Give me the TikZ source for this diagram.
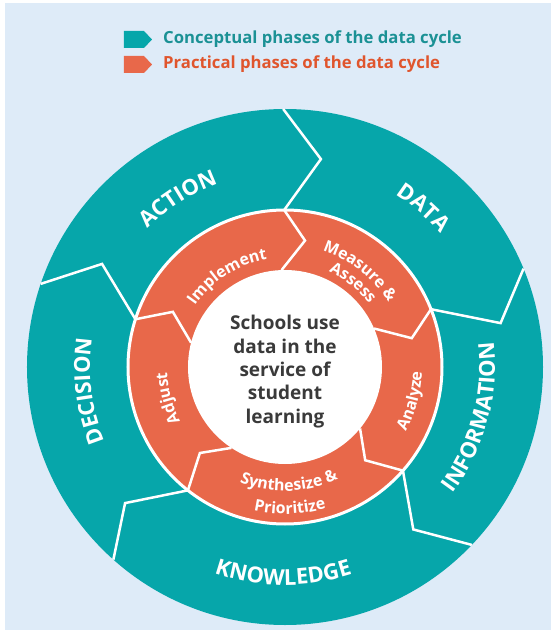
\documentclass[tikz,border=0pt]{standalone}
\usepackage{fontspec}
\setmainfont{Open Sans}
\usepackage{tikz}
\usetikzlibrary{decorations.text}
\definecolor{bgblue}{HTML}{DEEBF8}
\definecolor{tealC}{HTML}{06A6AA}
\definecolor{orangeC}{HTML}{E8684A}
\definecolor{tealtext}{HTML}{1B9195}
\definecolor{orangetext}{HTML}{E0552D}
\definecolor{mottogray}{HTML}{3A3A3A}
\newcommand{\outerfont}{\fontsize{22}{22}\selectfont\bfseries}
\newcommand{\innerfont}{\fontsize{16}{16}\selectfont\bfseries}
\newcommand{\legfont}{\fontsize{16.7}{16.7}\selectfont\bfseries}
\newcommand{\mottofont}{\fontsize{19}{23.3}\selectfont\bfseries}
\tikzset{sep/.style={white,line width=2.5pt,line join=miter},
  lbl/.style={decorate,decoration={text along path,text align=center,text color=white}}}
\begin{document}
\begin{tikzpicture}[x=1pt,y=1pt]
%Фон
\useasboundingbox (-285,-267) rectangle (266,367);
\fill[white] (-285,-267) rectangle (266,367);
\fill[bgblue] (-280,-263) rectangle (266,364);
%Легенда
\fill[tealC] (-161,336) -- (-141,336) -- (-133,327.5) -- (-141,319) -- (-161,319) -- cycle;
\fill[orangeC] (-161,311) -- (-141,311) -- (-133,302.5) -- (-141,294) -- (-161,294) -- cycle;
\node[anchor=west,inner sep=0,text=tealtext,font=\legfont] (concept) at (-122,327.5) {Conceptual phases of the data cycle};
\node[anchor=west,inner sep=0,text=orangetext,font=\legfont] (practical) at (-122,302.5) {Practical phases of the data cycle};
%Кольца
\fill[tealC] (0,0) circle (258);
\draw[white,line width=3pt,fill=orangeC] (0,0) circle (157);
\fill[white] (0,0) circle (97);
%Границы фаз
\draw[sep] (90.4:258) -- (80.2:211) -- (90.3:157) -- (81:128) -- (92:97);
\draw[sep] (22.4:258) -- (11.5:220) -- (21.6:157) -- (12.8:130) -- (23.4:97);
\draw[sep] (-43.6:258) -- (-51.7:207) -- (-41.3:157) -- (-49.3:123) -- (-39.3:97);
\draw[sep] (228.3:258) -- (220.4:210) -- (231.8:157) -- (225.3:121) -- (236.5:97);
\draw[sep] (161.2:258) -- (150.6:210) -- (162.3:157) -- (153.8:125) -- (165.5:97);
%Внешние подписи
\path[lbl,decoration={text={|\outerfont|ACTION}}] (150:195) arc[start angle=150,end angle=95,radius=195];
\path[lbl,decoration={text={|\outerfont|DATA}}] (75:205) arc[start angle=75,end angle=23,radius=205];
\path[lbl,decoration={text={|\outerfont|DECISION}}] (220:195) arc[start angle=220,end angle=154,radius=195];
\path[lbl,decoration={text={|\outerfont|INFORMATION}}] (-55:210) arc[start angle=-55,end angle=25,radius=210];
\path[lbl,decoration={text={|\outerfont|KNOWLEDGE}}] (-125:218) arc[start angle=-125,end angle=-56,radius=218];
%Внутренние подписи
\path[lbl,decoration={text={|\innerfont|Implement}}] (160:109) arc[start angle=160,end angle=85,radius=109];
\path[lbl,decoration={text={|\innerfont|Measure {\&}}}] (85:122) arc[start angle=85,end angle=19,radius=122];
\path[lbl,decoration={text={|\innerfont|Assess}}] (85:105) arc[start angle=85,end angle=17,radius=105];
\path[lbl,decoration={text={|\innerfont|Analyze}}] (-45:137) arc[start angle=-45,end angle=15,radius=137];
\path[lbl,decoration={text={|\innerfont|Synthesize {\&}}}] (-125:124) arc[start angle=-125,end angle=-51,radius=124];
\path[lbl,decoration={text={|\innerfont|Prioritize}}] (-120:147) arc[start angle=-120,end angle=-56,radius=147];
\path[lbl,decoration={text={|\innerfont|Adjust}}] (225:118) arc[start angle=225,end angle=165,radius=118];
%Центр
\node[align=center,text=mottogray,font=\mottofont] (motto) at (0,-4.5) {Schools use\\data in the\\service of\\student\\learning};
\end{tikzpicture}
\end{document}
